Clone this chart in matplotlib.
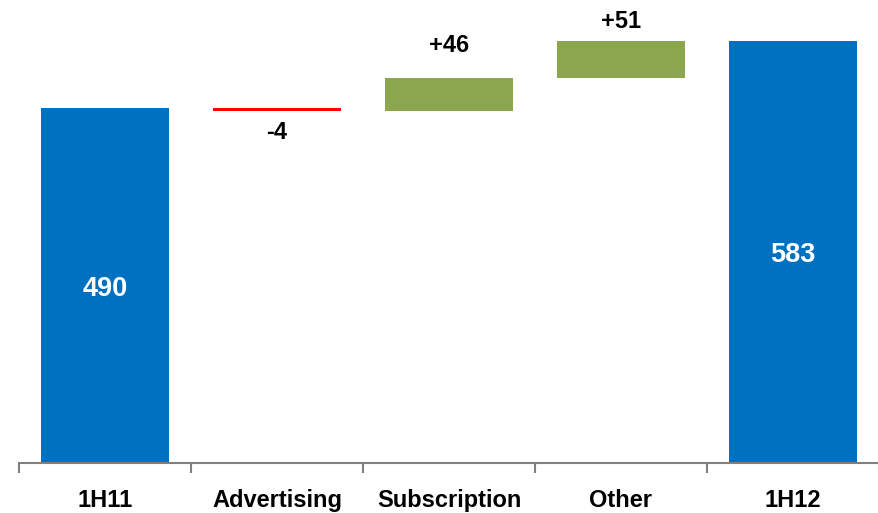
import matplotlib
matplotlib.use("Agg")
import matplotlib.pyplot as plt

categories = ["1H11", "Advertising", "Subscription", "Other", "1H12"]
values = [490, -4, 46, 51, 583]
kinds = ["total", "delta", "delta", "delta", "total"]
labels = ["490", "-4", "+46", "+51", "583"]

plt.rcParams['font.family'] = ['Liberation Sans', 'DejaVu Sans']

fig = plt.figure(figsize=(8.79, 5.13), dpi=100)
ax = fig.add_axes([19/879, 1 - 462.5/513, 860/879, 462.5/513])

blue = "#0070C0"
green = "#8BA64F"
red = "#FF0000"

YMAX = 640
running = 0
bw = 0.744
for i, (v, k, lab) in enumerate(zip(values, kinds, labels)):
    if k == "total":
        ax.bar(i, v, width=bw, bottom=0, color=blue, linewidth=0)
        ax.text(i, v / 2 - 5, lab, ha="center", va="center", color="white",
                fontsize=19.5, fontweight="bold")
        running = v
    else:
        lo = running + min(v, 0)
        col = green if v > 0 else red
        ax.bar(i, abs(v), width=bw, bottom=lo, color=col, linewidth=0)
        if v > 0:
            ty = min(running + v + 45, YMAX - 30)
        else:
            ty = running + v - 30
        ax.text(i, ty, lab, ha="center", va="center",
                color="black", fontsize=17, fontweight="bold")
        running += v

ax.set_xlim(-0.5, len(categories) - 0.5)
ax.set_ylim(0, YMAX)
for s in ["top", "right", "left"]:
    ax.spines[s].set_visible(False)
ax.spines["bottom"].set_color("#808080")
ax.spines["bottom"].set_linewidth(1.5)
ax.set_yticks([])
ax.set_xticks([i - 0.5 for i in range(len(categories) + 1)], minor=False)
ax.set_xticklabels([])
ax.tick_params(axis="x", which="major", length=7, width=1.5, color="#808080", direction="out")
ax.set_xticks(range(len(categories)), minor=True)
ax.set_xticklabels(categories, minor=True, fontsize=17, fontweight="bold")
ax.tick_params(axis="x", which="minor", length=0, pad=19)

fig.savefig("out.png", dpi=100)
